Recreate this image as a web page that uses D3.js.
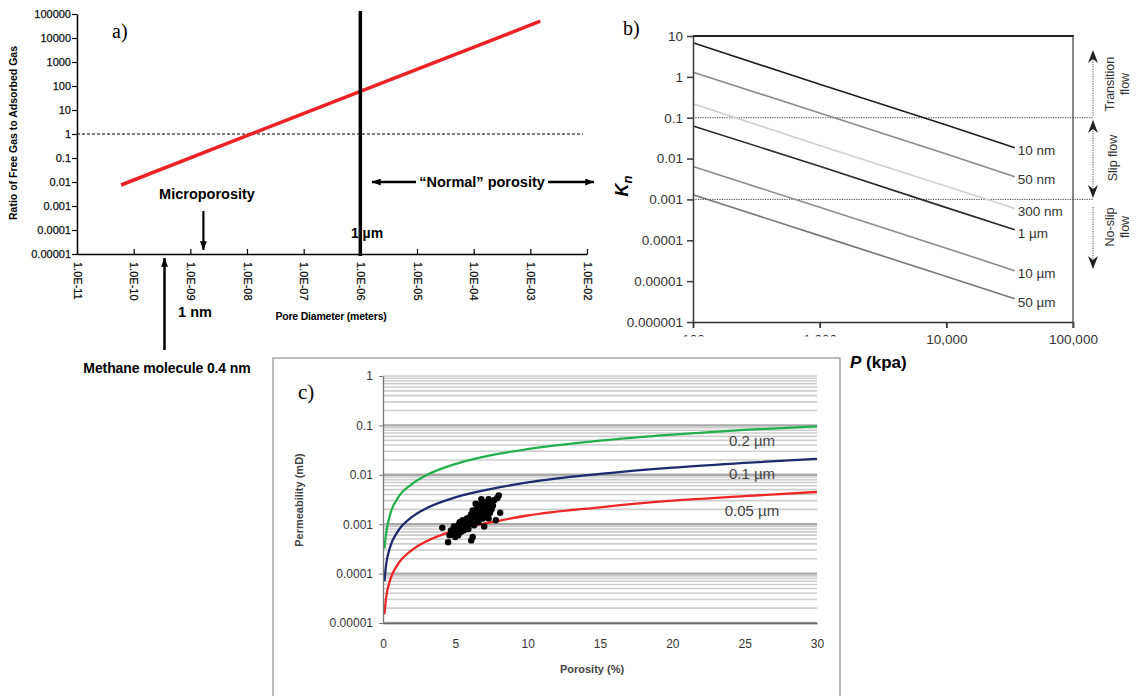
<!DOCTYPE html>
<html><head><meta charset="utf-8">
<script src="https://cdn.jsdelivr.net/npm/d3@7"></script>
<style>
body{margin:0;background:#fff;}
svg{display:block;font-family:"Liberation Sans",Arial,sans-serif;}
</style></head>
<body>
<script>
// ---------- Panel a data ----------
const aYTicks = [1e5,1e4,1e3,1e2,10,1,0.1,0.01,0.001,0.0001,0.00001];
const aYLabels = ["100000","10000","1000","100","10","1","0.1","0.01","0.001","0.0001","0.00001"];
const aXTicks = [1e-11,1e-10,1e-9,1e-8,1e-7,1e-6,1e-5,1e-4,1e-3,1e-2];
const aXLabels = ["1.0E-11","1.0E-10","1.0E-09","1.0E-08","1.0E-07","1.0E-06","1.0E-05","1.0E-04","1.0E-03","1.0E-02"];
const aRatioX = [6e-11, 1e-8, 1e-6, 1.5e-3];
const aRatioY = [0.0075, 0.85, 60, 50000];
const aMicronX = 1e-6;
const aMethaneX = 3.5e-10;
const aMicroX = 1.7e-9;

// ---------- Panel b data ----------
const bYTicks = [10,1,0.1,0.01,0.001,0.0001,0.00001,0.000001];
const bYLabels = ["10","1","0.1","0.01","0.001","0.0001","0.00001","0.000001"];
const bXTicks = [100,1000,10000,100000];
const bXLabels = ["100","1,000","10,000","100,000"];
const bPressure = [100, 1000, 10000, 34700];
const bSeriesNames = ["10 nm","50 nm","300 nm","1 \u00b5m","10 \u00b5m","50 \u00b5m"];
const bKn10nm  = [6.8, 0.66, 0.066, 0.0185];
const bKn50nm  = [1.3, 0.13, 0.013, 0.0036];
const bKn300nm = [0.22, 0.021, 0.0021, 0.0006];
const bKn1um   = [0.063, 0.0065, 0.00063, 0.00018];
const bKn10um  = [0.0064, 0.00064, 0.000064, 0.000018];
const bKn50um  = [0.0013, 0.00013, 0.000013, 0.0000037];
const bColors = ["#1e1e1e","#8a8a8a","#cfcfcf","#2a2a2a","#8c8c8c","#777777"];
const bRegimeLines = [0.1, 0.001];

// ---------- Panel c data ----------
const cYTicks = [1,0.1,0.01,0.001,0.0001,0.00001];
const cYLabels = ["1","0.1","0.01","0.001","0.0001","0.00001"];
const cXTicks = [0,5,10,15,20,25,30];
const cGridDecades = [1e-5,1e-4,1e-3,1e-2,1e-1];
const cGridMult = [1,2,3,4,5,6,7,8,9];
const cPorosity = [0.1,0.2,0.5,1,2,3,5,7.5,10,15,20,25,30];
const cPerm02 = [0.00032,0.0006,0.0016,0.0033,0.0065,0.0098,0.0165,0.025,0.033,0.049,0.065,0.081,0.096];
const cPerm01 = [0.00007,0.00014,0.00035,0.0007,0.0014,0.0021,0.0035,0.0052,0.007,0.0104,0.014,0.0174,0.021];
const cPerm005 = [0.000015,0.00003,0.000075,0.00015,0.0003,0.00045,0.00075,0.0011,0.0015,0.0022,0.003,0.0037,0.0045];
const cCurveNames = ["0.2 \u00b5m","0.1 \u00b5m","0.05 \u00b5m"];
const cCurveColors = ["#22b04b","#1d2a6e","#ee2626"];
const cLabelK = [0.05, 0.0104, 0.0019];
const cSamplePhi = [4.1,4.5,4.6,4.7,4.8,4.9,5.0,5.0,5.1,5.2,5.2,5.3,5.4,5.4,5.5,5.5,5.6,5.6,5.7,5.8,5.8,5.9,5.9,6.0,6.0,6.1,6.1,6.2,6.2,6.2,6.3,6.3,6.4,6.4,6.5,6.5,6.6,6.6,6.7,6.7,6.8,6.8,6.9,6.9,7.0,7.0,7.0,7.1,7.1,7.2,7.2,7.3,7.3,7.4,7.4,7.5,7.5,7.6,7.7,7.8,7.9,8.0,8.1];
const cSampleK = [0.00085,0.00043,0.0006,0.00075,0.00065,0.0009,0.0007,0.00055,0.0008,0.00095,0.0006,0.0011,0.00085,0.0007,0.001,0.0012,0.0009,0.00075,0.0011,0.0013,0.00095,0.0012,0.0008,0.0014,0.001,0.00047,0.0016,0.00055,0.0012,0.0019,0.0015,0.00095,0.0026,0.0017,0.0013,0.0022,0.0011,0.0018,0.0025,0.0015,0.0032,0.002,0.0013,0.0017,0.0023,0.0009,0.0028,0.0015,0.002,0.0018,0.0025,0.0032,0.0013,0.0022,0.0017,0.0028,0.002,0.0024,0.0031,0.0012,0.0034,0.0038,0.0017];

const svg = d3.select("body").append("svg").attr("width",1138).attr("height",696);
svg.append("rect").attr("width",1138).attr("height",696).attr("fill","#fff");

const defs = svg.append("defs");
defs.append("marker").attr("id","arrA").attr("viewBox","0 0 10 8").attr("refX",10).attr("refY",4)
  .attr("markerWidth",9).attr("markerHeight",7).attr("markerUnits","userSpaceOnUse").attr("orient","auto")
  .append("path").attr("d","M0,0 L10,4 L0,8 Z").attr("fill","#000");

// =============== PANEL A ===============
const xA = d3.scaleLog().domain([1e-11,1e-2]).range([77,587]);
const yA = d3.scaleLog().domain([1e-5,1e5]).range([254,14]);
const gA = svg.append("g");

const yAxisA = gA.append("g").attr("transform","translate(77,0)")
  .call(d3.axisLeft(yA).tickValues(aYTicks).tickFormat((d,i)=>aYLabels[i]).tickSize(5).tickSizeOuter(0));
yAxisA.select(".domain").attr("stroke","#000").attr("stroke-width",1.5);
yAxisA.selectAll(".tick line").attr("stroke","#000").attr("stroke-width",1.2);
yAxisA.selectAll(".tick text").attr("font-size",11).attr("fill","#111").attr("x",-6)
  .attr("stroke","#111").attr("stroke-width",0.25);

const xAxisA = gA.append("g").attr("transform","translate(0,254)")
  .call(d3.axisBottom(xA).tickValues(aXTicks).tickFormat((d,i)=>aXLabels[i]).tickSize(-5).tickSizeOuter(0));
xAxisA.select(".domain").attr("stroke","#000").attr("stroke-width",1.5);
xAxisA.selectAll(".tick line").attr("stroke","#000").attr("stroke-width",1.2);
xAxisA.selectAll(".tick text").attr("font-size",11).attr("fill","#111")
  .attr("stroke","#111").attr("stroke-width",0.25)
  .attr("transform","rotate(90)").attr("x",8).attr("y",0).attr("dy","0.35em").style("text-anchor","start");

// dashed line at ratio 1
gA.append("line").attr("x1",77).attr("x2",583).attr("y1",yA(1)).attr("y2",yA(1))
  .attr("stroke","#000").attr("stroke-width",1).attr("stroke-dasharray","3,2");

// red ratio line
gA.append("path").datum(aRatioX.map((x,i)=>[x,aRatioY[i]]))
  .attr("d",d3.line().x(d=>xA(d[0])).y(d=>yA(d[1])))
  .attr("fill","none").attr("stroke","#ec2227").attr("stroke-width",3.5);

// 1 micron line
gA.append("line").attr("x1",xA(aMicronX)).attr("x2",xA(aMicronX)).attr("y1",11).attr("y2",256)
  .attr("stroke","#000").attr("stroke-width",3.5);

gA.append("text").attr("x",112).attr("y",38).attr("font-family","Liberation Serif, Times New Roman, serif")
  .attr("font-size",20).text("a)");

gA.append("text").attr("transform","translate(17,133) rotate(-90)").attr("text-anchor","middle")
  .attr("font-size",10.5).attr("font-weight","bold").text("Ratio of Free Gas to Adsorbed Gas");
gA.append("text").attr("x",331).attr("y",320).attr("text-anchor","middle")
  .attr("font-size",10.5).attr("font-weight","bold").attr("letter-spacing",-0.2).text("Pore Diameter (meters)");

gA.append("text").attr("x",367).attr("y",238).attr("text-anchor","middle")
  .attr("font-size",14).attr("font-weight","bold").text("1 \u00b5m");
gA.append("text").attr("x",207).attr("y",199).attr("text-anchor","middle")
  .attr("font-size",14.5).attr("font-weight","bold").text("Microporosity");
gA.append("line").attr("x1",xA(aMicroX)).attr("x2",xA(aMicroX)).attr("y1",211).attr("y2",250)
  .attr("stroke","#000").attr("stroke-width",2.2).attr("marker-end","url(#arrA)");
gA.append("text").attr("x",482).attr("y",187).attr("text-anchor","middle")
  .attr("font-size",14.5).attr("font-weight","bold").text("\u201cNormal\u201d porosity");
gA.append("line").attr("x1",416).attr("x2",372).attr("y1",182).attr("y2",182)
  .attr("stroke","#000").attr("stroke-width",2.5).attr("marker-end","url(#arrA)");
gA.append("line").attr("x1",548).attr("x2",594).attr("y1",182).attr("y2",182)
  .attr("stroke","#000").attr("stroke-width",2.5).attr("marker-end","url(#arrA)");
gA.append("line").attr("x1",xA(aMethaneX)).attr("x2",xA(aMethaneX)).attr("y1",350).attr("y2",258)
  .attr("stroke","#000").attr("stroke-width",2.5).attr("marker-end","url(#arrA)");
gA.append("text").attr("x",195).attr("y",317).attr("text-anchor","middle")
  .attr("font-size",14.5).attr("font-weight","bold").text("1 nm");
gA.append("text").attr("x",167).attr("y",373).attr("text-anchor","middle")
  .attr("font-size",14).attr("font-weight","bold").attr("letter-spacing",-0.1).text("Methane molecule 0.4 nm");

// =============== PANEL B ===============
const xB = d3.scaleLog().domain([100,100000]).range([693,1073]);
const yB = d3.scaleLog().domain([1e-6,10]).range([322,36]);
const gB = svg.append("g");

gB.append("text").attr("x",623).attr("y",35).attr("font-family","Liberation Serif, Times New Roman, serif")
  .attr("font-size",20).text("b)");

bRegimeLines.forEach(v=>{
  gB.append("line").attr("x1",693).attr("x2",1093).attr("y1",yB(v)).attr("y2",yB(v))
    .attr("stroke","#444").attr("stroke-width",1).attr("stroke-dasharray","1.2,1.2");
});

const bSeries = [bKn10nm,bKn50nm,bKn300nm,bKn1um,bKn10um,bKn50um];
const lineB = d3.line().x(d=>xB(d[0])).y(d=>yB(d[1]));
bSeries.forEach((s,i)=>{
  gB.append("path").datum(bPressure.map((p,j)=>[p,s[j]])).attr("d",lineB)
    .attr("fill","none").attr("stroke",bColors[i]).attr("stroke-width",1.6);
  const last = s.length-1;
  gB.append("text").attr("x",xB(bPressure[last])+3).attr("y",yB(s[last])+3).attr("dy","0.35em")
    .attr("font-size",13.5).attr("fill","#333").text(bSeriesNames[i]);
});

const yAxisB = gB.append("g").attr("transform","translate(693,0)")
  .call(d3.axisLeft(yB).tickValues(bYTicks).tickFormat((d,i)=>bYLabels[i]).tickSize(6).tickSizeOuter(0));
yAxisB.select(".domain").attr("stroke","#444").attr("stroke-width",1.6);
yAxisB.selectAll(".tick line").attr("stroke","#444").attr("stroke-width",1.6);
yAxisB.selectAll(".tick text").attr("font-size",13.5).attr("fill","#333").attr("x",-10);

const xAxisB = gB.append("g").attr("transform","translate(0,322)")
  .call(d3.axisBottom(xB).tickValues(bXTicks).tickFormat((d,i)=>bXLabels[i]).tickSize(6).tickSizeOuter(0));
xAxisB.select(".domain").attr("stroke","#333").attr("stroke-width",1.6);
xAxisB.selectAll(".tick line").attr("stroke","#333").attr("stroke-width",1.8);
xAxisB.selectAll(".tick text").attr("font-size",13.5).attr("fill","#333").attr("y",12);

gB.append("line").attr("x1",693).attr("x2",1074).attr("y1",36).attr("y2",36).attr("stroke","#222").attr("stroke-width",2);
gB.append("line").attr("x1",1073).attr("x2",1073).attr("y1",36).attr("y2",328).attr("stroke","#555").attr("stroke-width",1.4);

const ax = 1093;
function headUp(x,y){ return `M${x},${y} L${x+5},${y+13} L${x},${y+9} L${x-5},${y+13} Z`; }
function headDown(x,y){ return `M${x},${y} L${x+5},${y-13} L${x},${y-9} L${x-5},${y-13} Z`; }
const seg = [[52,116],[121,197],[207,268]];
seg.forEach(s=>{
  gB.append("line").attr("x1",ax).attr("x2",ax).attr("y1",s[0]).attr("y2",s[1])
    .attr("stroke","#555").attr("stroke-width",1).attr("stroke-dasharray","1.2,1.2");
});
gB.append("path").attr("d",headUp(ax,50)).attr("fill","#222");
gB.append("path").attr("d",headUp(ax,120)).attr("fill","#222");
gB.append("path").attr("d",headDown(ax,198)).attr("fill","#222");
gB.append("path").attr("d",headDown(ax,269)).attr("fill","#222");

function vlabel(x,y,lines){
  const t = gB.append("text").attr("transform",`translate(${x},${y}) rotate(-90)`).attr("text-anchor","middle")
    .attr("font-size",12.5).attr("fill","#333");
  lines.forEach((l,i)=>t.append("tspan").attr("x",0).attr("dy", i===0 ? (lines.length===2?"-0.15em":"0.35em") : "1.2em").text(l));
}
vlabel(1116,84,["Transition","flow"]);
vlabel(1113,158,["Slip flow"]);
vlabel(1116,227,["No-slip","flow"]);

const kn = gB.append("text").attr("transform","translate(628,186) rotate(-90)").attr("text-anchor","middle")
  .attr("font-size",18).attr("font-weight","bold").attr("font-style","italic");
kn.append("tspan").text("K");
kn.append("tspan").attr("font-size",13).attr("dy",4).text("n");
const pt = gB.append("text").attr("x",850).attr("y",368).attr("font-size",17).attr("font-weight","bold");
pt.append("tspan").attr("font-style","italic").text("P");
pt.append("tspan").text(" (kpa)");

svg.append("rect").attr("x",600).attr("y",336.5).attr("width",245).attr("height",21).attr("fill","#fff");

// =============== PANEL C ===============
const gC = svg.append("g");
gC.append("rect").attr("x",273).attr("y",358).attr("width",567).attr("height",360)
  .attr("fill","#fff").attr("stroke","#9a9a9a").attr("stroke-width",1.3);

const xC = d3.scaleLinear().domain([0,30]).range([383,817]);
const yC = d3.scaleLog().domain([1e-5,1]).range([623,376]);

cGridDecades.forEach(dec=>{
  cGridMult.forEach(m=>{
    const v = dec*m;
    gC.append("line").attr("x1",383).attr("x2",817).attr("y1",yC(v)).attr("y2",yC(v))
      .attr("stroke", m===1 ? "#a9a9a9" : "#cdcdcd").attr("stroke-width", m===1 ? 2.4 : 1.6);
  });
});
gC.append("line").attr("x1",383).attr("x2",817).attr("y1",yC(1)).attr("y2",yC(1))
  .attr("stroke","#cdcdcd").attr("stroke-width",1.6);

const lineC = d3.line().x(d=>xC(d[0])).y(d=>yC(d[1])).curve(d3.curveMonotoneX);
[cPerm02,cPerm01,cPerm005].forEach((s,i)=>{
  gC.append("path").datum(cPorosity.map((p,j)=>[p,s[j]])).attr("d",lineC)
    .attr("fill","none").attr("stroke",cCurveColors[i]).attr("stroke-width",2.3);
});

gC.selectAll("circle.sample").data(cSamplePhi.map((p,i)=>[p,cSampleK[i]])).enter()
  .append("circle").attr("class","sample").attr("cx",d=>xC(d[0])).attr("cy",d=>yC(d[1])).attr("r",3.2).attr("fill","#000");

const yAxisC = gC.append("g").attr("transform","translate(383,0)")
  .call(d3.axisLeft(yC).tickValues(cYTicks).tickFormat((d,i)=>cYLabels[i]).tickSize(4).tickSizeOuter(0));
yAxisC.select(".domain").attr("stroke","#777").attr("stroke-width",1.3);
yAxisC.selectAll(".tick line").attr("stroke","#777");
yAxisC.selectAll(".tick text").attr("font-size",12).attr("fill","#333").attr("x",-10);

const xAxisC = gC.append("g").attr("transform","translate(0,623)")
  .call(d3.axisBottom(xC).tickValues(cXTicks).tickSize(0).tickSizeOuter(0));
xAxisC.select(".domain").attr("stroke","#666").attr("stroke-width",1.5);
xAxisC.selectAll(".tick text").attr("font-size",12).attr("fill","#333").attr("y",16);

gC.append("text").attr("x",298).attr("y",399).attr("font-family","Liberation Serif, Times New Roman, serif")
  .attr("font-size",21).text("c)");
gC.append("text").attr("transform","translate(303,500) rotate(-90)").attr("text-anchor","middle")
  .attr("font-size",11).attr("font-weight","bold").attr("fill","#444").text("Permeability (mD)");
gC.append("text").attr("x",592).attr("y",673).attr("text-anchor","middle")
  .attr("font-size",11).attr("font-weight","bold").attr("fill","#444").text("Porosity (%)");

cCurveNames.forEach((n,i)=>{
  gC.append("text").attr("x",752).attr("y",yC(cLabelK[i])).attr("dy","0.35em").attr("text-anchor","middle")
    .attr("font-size",15).attr("fill","#444").text(n);
});
</script>
</body></html>
